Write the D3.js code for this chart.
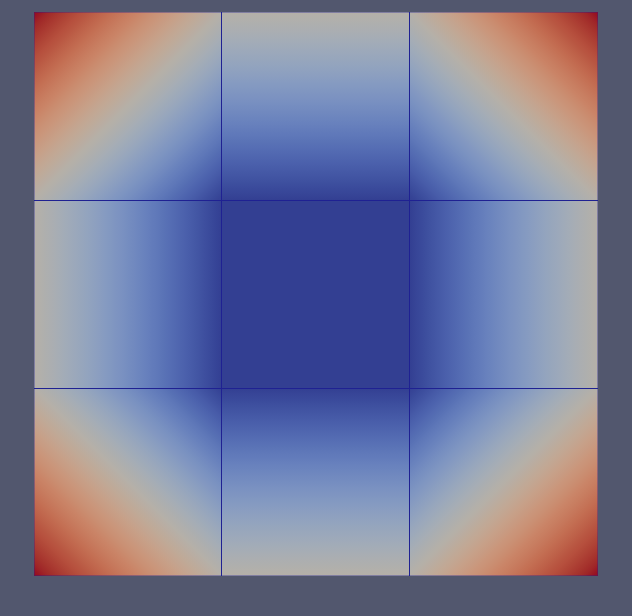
<!DOCTYPE html>
<html>
<head>
<meta charset="utf-8">
<script src="https://cdn.jsdelivr.net/npm/d3@7"></script>
<style>
html,body{margin:0;padding:0;background:#52576e;}
svg{display:block;}
</style>
</head>
<body>
<svg id="chart" width="632" height="616"></svg>
<script>
// ---- data ----
const xNodes = [0, 1, 2, 3];
const yNodes = [0, 1, 2, 3];
// nodal scalar values, rows top->bottom, columns left->right
const nodeValues = [
  [1.0, 0.5, 0.5, 1.0],
  [0.5, 0.0, 0.0, 0.5],
  [0.5, 0.0, 0.0, 0.5],
  [1.0, 0.5, 0.5, 1.0]
];
const colorDomain = [0, 1];
// Cool to Warm (Moreland) colormap table
const coolWarmPos = d3.range(33).map(i => i / 32);
const coolWarmRGB = [
  [59,76,192],[68,90,204],[77,104,215],[87,117,225],[98,130,234],[108,142,241],
  [119,154,247],[130,165,251],[141,176,254],[152,185,255],[163,194,255],[174,201,253],
  [184,208,249],[194,213,244],[204,217,238],[213,219,230],[221,221,221],[229,216,209],
  [236,211,197],[241,204,185],[245,196,173],[247,187,160],[247,177,148],[247,166,135],
  [244,154,123],[241,141,111],[236,127,99],[229,112,88],[222,96,77],[213,80,66],
  [203,62,56],[192,40,47],[180,4,38]
];

// ---- layout ----
const svg = d3.select("#chart");
const x = d3.scaleLinear().domain(d3.extent(xNodes)).range([34, 598]);
const y = d3.scaleLinear().domain(d3.extent(yNodes)).range([12, 576]);

// shading (flat-lit surface)
function shade(c) {
  const k = [0.8, 0.78, 0.74], a = 4;
  return d3.rgb(c[0] * k[0] + a, c[1] * k[1] + a, c[2] * k[2] + a).formatHex();
}
const tScale = d3.scaleLinear().domain(colorDomain).range([0, 1]).clamp(true);
const cmap = d3.scaleLinear()
  .domain(coolWarmPos)
  .range(coolWarmRGB.map(shade))
  .interpolate(d3.interpolateRgb)
  .clamp(true);
const color = v => cmap(tScale(v));

const defs = svg.append("defs");
const cells = [];
for (let j = 0; j < yNodes.length - 1; j++) {
  for (let i = 0; i < xNodes.length - 1; i++) {
    cells.push({ i, j });
  }
}

cells.forEach(cell => {
  const { i, j } = cell;
  const x0 = x(xNodes[i]), x1 = x(xNodes[i + 1]);
  const y0 = y(yNodes[j]), y1 = y(yNodes[j + 1]);
  const w = x1 - x0, h = y1 - y0;
  const v00 = nodeValues[j][i], v10 = nodeValues[j][i + 1];
  const v01 = nodeValues[j + 1][i], v11 = nodeValues[j + 1][i + 1];
  const fc = (v00 + v10 + v01 + v11) / 4;
  const gx = ((v10 - v00) + (v11 - v01)) / 2 / w;
  const gy = ((v01 - v00) + (v11 - v10)) / 2 / h;
  const gm = Math.hypot(gx, gy);
  const cx = (x0 + x1) / 2, cy = (y0 + y1) / 2;
  let fill;
  if (gm < 1e-12) {
    fill = color(fc);
  } else {
    const dx = gx / gm, dy = gy / gm;
    const L = (w + h) / 2;
    const id = `g${i}_${j}`;
    const g = defs.append("linearGradient")
      .attr("id", id)
      .attr("gradientUnits", "userSpaceOnUse")
      .attr("x1", cx - dx * L).attr("y1", cy - dy * L)
      .attr("x2", cx + dx * L).attr("y2", cy + dy * L);
    const n = 64;
    d3.range(n + 1).forEach(k => {
      const t = k / n;
      const f = fc + (t * 2 * L - L) * gm;
      g.append("stop").attr("offset", t).attr("stop-color", color(f));
    });
    fill = `url(#${id})`;
  }
  svg.append("rect")
    .attr("x", x0).attr("y", y0)
    .attr("width", w).attr("height", h)
    .attr("fill", fill)
    .attr("shape-rendering", "crispEdges");
});

// cell edges
const edgeColor = "#1f2192";
const inner = a => a.slice(1, -1);
svg.append("g").selectAll("line")
  .data(inner(xNodes)).join("line")
  .attr("x1", d => Math.round(x(d)) - 0.5).attr("x2", d => Math.round(x(d)) - 0.5)
  .attr("y1", y.range()[0]).attr("y2", y.range()[1])
  .attr("stroke", edgeColor).attr("stroke-width", 1)
  .attr("shape-rendering", "crispEdges");
svg.append("g").selectAll("line")
  .data(inner(yNodes)).join("line")
  .attr("y1", d => Math.round(y(d)) + 0.5).attr("y2", d => Math.round(y(d)) + 0.5)
  .attr("x1", x.range()[0]).attr("x2", x.range()[1])
  .attr("stroke", edgeColor).attr("stroke-width", 1)
  .attr("shape-rendering", "crispEdges");
// outer boundary (faint)
svg.append("rect")
  .attr("x", x.range()[0] + 0.5).attr("y", y.range()[0] + 0.5)
  .attr("width", x.range()[1] - x.range()[0] - 1)
  .attr("height", y.range()[1] - y.range()[0] - 1)
  .attr("fill", "none").attr("stroke", edgeColor).attr("stroke-opacity", 0.35)
  .attr("shape-rendering", "crispEdges");
</script>
</body>
</html>
